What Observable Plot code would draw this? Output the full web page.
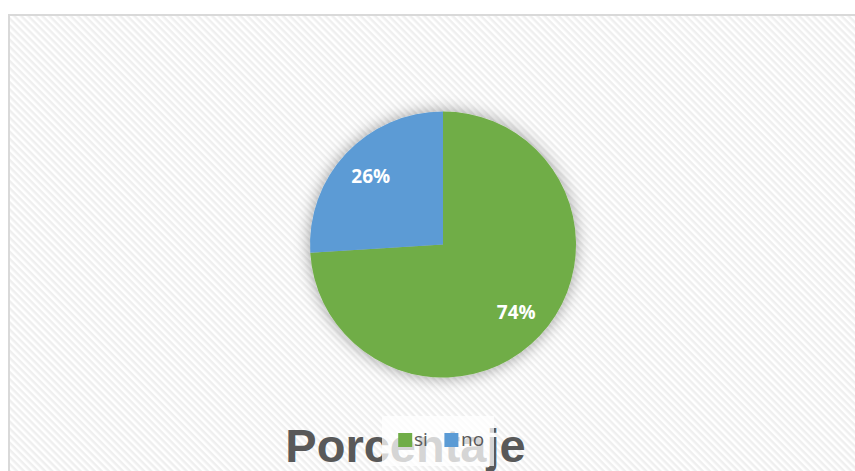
<!DOCTYPE html>
<html>
<head>
<meta charset="utf-8">
<script src="https://cdn.jsdelivr.net/npm/d3@7"></script>
<script src="https://cdn.jsdelivr.net/npm/@observablehq/plot@0.6"></script>
<style>
  html, body { margin: 0; padding: 0; background: #fff; }
  #chart svg { display: block; }
</style>
</head>
<body>
<svg width="0" height="0" style="position:absolute">
  <defs>
    <pattern id="hatch" width="5" height="5" patternUnits="userSpaceOnUse" patternTransform="rotate(45)">
      <rect width="5" height="5" fill="#ffffff"></rect>
      <rect width="5" height="2.5" fill="#efefef"></rect>
    </pattern>
    <filter id="pieShadow" x="-30%" y="-30%" width="160%" height="160%">
      <feDropShadow dx="0" dy="0" stdDeviation="8" flood-color="#000" flood-opacity="0.38"></feDropShadow>
    </filter>
  </defs>
</svg>
<div id="chart"></div>
<script>
const categories = ["si", "no"];
const values = [74, 26];
const colors = ["#70AD47", "#5B9BD5"];
const labels = ["74%", "26%"];
const title = "Porcentaje";

// layout helpers: convert pixel layout positions into the unit data space
const CX = 443, CY = 244.5, R = 133;
const X = px => (px - CX) / R;
const Y = py => (CY - py) / R;

const arcs = d3.pie().sort(null).value(d => d.value)(
  categories.map((c, i) => ({category: c, value: values[i], label: labels[i]}))
);
const labelData = arcs.map(a => {
  const m = (a.startAngle + a.endAngle) / 2;
  return {label: a.data.label, x: 0.75 * Math.sin(m), y: 0.75 * Math.cos(m)};
});

function pieMark(index, scales) {
  const cx = scales.x(0), cy = scales.y(0);
  const r = scales.x(1) - scales.x(0);
  const g = d3.create("svg:g")
    .attr("transform", `translate(${cx},${cy})`)
    .attr("filter", "url(#pieShadow)");
  const arc = d3.arc().innerRadius(0).outerRadius(r);
  g.selectAll("path").data(arcs).join("path")
    .attr("d", arc)
    .attr("fill", d => scales.color(d.data.category));
  return g.node();
}

const plot = Plot.plot({
  width: 855,
  height: 471,
  marginLeft: 8,
  marginTop: 14,
  marginRight: 0,
  marginBottom: 0,
  style: {background: "#fff", overflow: "visible"},
  x: {domain: [-1, 1], range: [CX - R, CX + R], axis: null},
  y: {domain: [-1, 1], range: [CY + R, CY - R], axis: null},
  color: {domain: categories, range: colors},
  marks: [
    Plot.frame({fill: "url(#hatch)", stroke: "none"}),
    Plot.ruleY([Y(14.5)], {stroke: "#d9d9d9", strokeWidth: 2}),
    Plot.ruleX([X(8.5)], {stroke: "#d9d9d9", strokeWidth: 2}),
    pieMark,
    Plot.text(labelData, {x: "x", y: "y", text: "label", fill: "white", fontSize: 19, fontWeight: "bold", fontFamily: "Open Sans"}),
    Plot.text([title], {x: X(405), y: Y(446), text: d => d, fontSize: 47, fontWeight: "bold", fontFamily: "Liberation Sans", fill: "#595959"}),
    Plot.rect([0], {x1: X(382), x2: X(494), y1: Y(416), y2: Y(466), fill: "white", fillOpacity: 0.75}),
    Plot.dot(categories, {x: (d, i) => X(404.7 + i * 46.2), y: Y(439.5), symbol: "square", r: 7.9, fill: d => d}),
    Plot.text(categories, {x: (d, i) => X(413.5 + i * 47), y: Y(439), text: d => d, textAnchor: "start", fontSize: 19, fontFamily: "Open Sans", fill: "#595959"})
  ]
});
document.getElementById("chart").appendChild(plot);
</script>
</body>
</html>
